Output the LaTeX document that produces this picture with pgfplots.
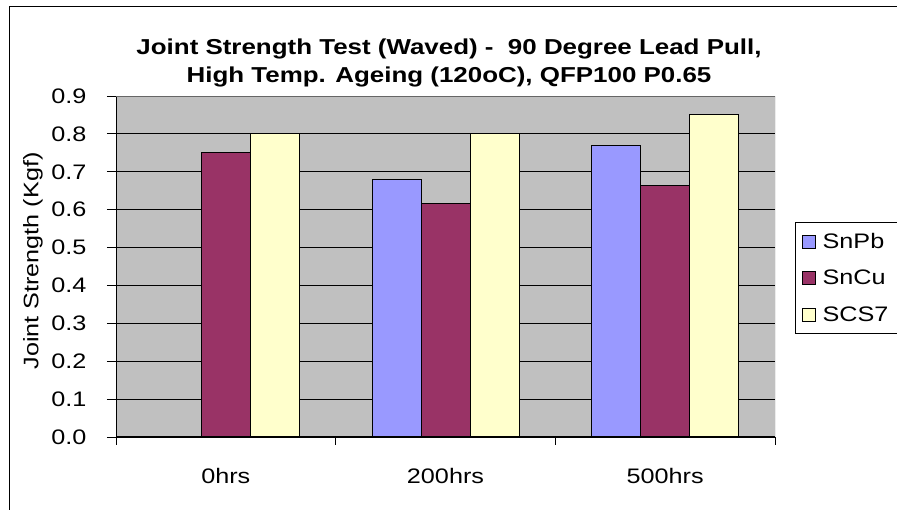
\documentclass[border=0pt]{standalone}
\usepackage{pgfplots}
\pgfplotsset{compat=1.18}
\usepackage{fontspec}
\setmainfont{Liberation Sans}[FakeStretch=1.2]
\definecolor{snpb}{HTML}{9999FF}
\definecolor{sncu}{HTML}{993366}
\definecolor{scs}{HTML}{FFFFCC}
\definecolor{plotbg}{HTML}{C0C0C0}
\begin{document}
\begin{tikzpicture}
\begin{axis}[
  at={(116pt,73pt)}, anchor=south west,
  scale only axis, width=659pt, height=341pt,
  xmin=-0.5, xmax=2.5, ymin=0, ymax=0.9,
  axis x line*=bottom, axis y line*=left,
  axis line style={black, line width=1pt},
  axis background/.style={fill=plotbg},
  xtick={0,1,2}, xticklabels={0hrs,200hrs,500hrs},
  minor xtick={-0.5,0.5,1.5,2.5},
  major x tick style={draw=none},
  minor x tick style={black, line width=0.8pt},
  ytick={0,0.1,...,0.9},
  y tick style={black, line width=0.8pt},
  tick align=outside,
  major tick length=9pt, minor tick length=8pt,
  ymajorgrids, major y grid style={black, line width=0.8pt},
  /pgf/number format/assume math mode=true,
  yticklabel={\pgfmathprintnumber[fixed,fixed zerofill,precision=1]{\tick}},
  ticklabel style={font=\fontsize{21}{25}\selectfont},
  xticklabel style={yshift=-19pt},
  yticklabel style={xshift=-17pt},
  ybar, bar width=49pt,
  legend style={at={(1.031,0.630)}, anchor=north west, draw=black, line width=0.8pt, fill=white,
    font=\fontsize{21}{25}\selectfont, row sep=16pt, inner xsep=6pt, inner ysep=9pt,
    nodes={inner xsep=7pt}},
  legend cell align=left,
  legend image code/.code={\draw[#1,draw=black,line width=0.8pt] (0pt,-6.5pt) rectangle (13pt,6.5pt);},
]
\addplot[fill=snpb, draw=black, line width=1pt, bar shift=-49pt] coordinates {(1,0.68) (2,0.77)};
\addplot[fill=sncu, draw=black, line width=1pt, bar shift=0pt] coordinates {(0,0.75) (1,0.615) (2,0.665)};
\addplot[fill=scs, draw=black, line width=1pt, bar shift=49pt] coordinates {(0,0.80) (1,0.80) (2,0.85)};
\legend{SnPb,SnCu,SCS7}
\draw[color=gray!80!black, line width=1pt] (rel axis cs:0,1) -- (rel axis cs:1,1) -- (rel axis cs:1,0);
\end{axis}
\node[font=\bfseries\fontsize{21.6}{28}\selectfont, align=center] at (449pt,447.5pt)
  {Joint Strength Test (Waved) -\ \ 90 Degree Lead Pull,\\High Temp. Ageing (120oC), QFP100 P0.65};
\node[rotate=90, font=\fontsize{21}{25}\selectfont] at (33pt,249pt) {Joint Strength (Kgf)};
\draw[black, line width=1pt] (9pt,-5pt) -- (9pt,503pt) -- (905pt,503pt);
\pgfresetboundingbox
\path[use as bounding box] (0pt,0pt) rectangle (897pt,510pt);
\end{tikzpicture}
\end{document}
